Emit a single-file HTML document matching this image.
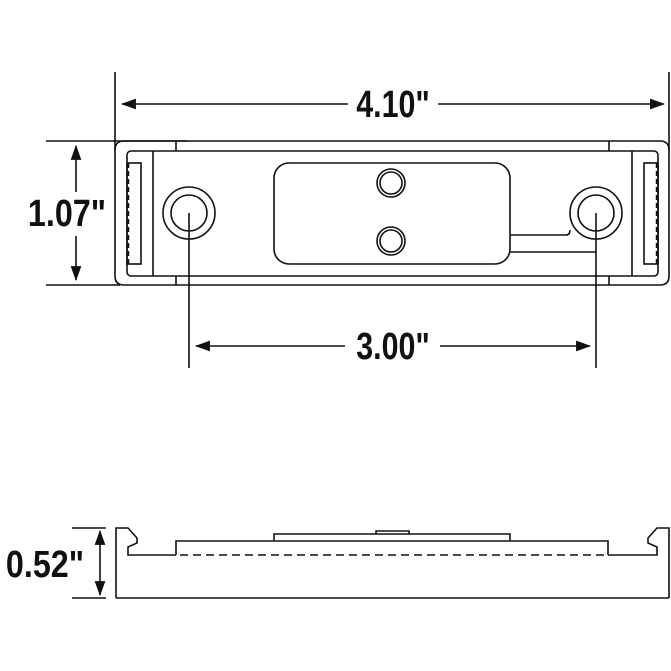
<!DOCTYPE html>
<html><head><style>body{margin:0;background:#fff}svg{display:block}text{font-family:"Liberation Sans",sans-serif;font-weight:bold;fill:#111}</style></head>
<body>
<svg width="671" height="671" viewBox="0 0 671 671" xmlns="http://www.w3.org/2000/svg">
<defs>
<marker id="b" viewBox="0 0 14 10" refX="13" refY="5" markerWidth="15" markerHeight="11" markerUnits="userSpaceOnUse" orient="auto-start-reverse"><path d="M0,0 L14,5 L0,10 z" fill="#111"/></marker>
</defs>
<g fill="none" stroke="#111" stroke-width="1.6">
<line x1="115" y1="72" x2="115" y2="150"/>
<line x1="669" y1="72" x2="669" y2="150"/>
<line x1="122" y1="104" x2="348" y2="104" marker-start="url(#b)"/>
<line x1="438" y1="104" x2="664" y2="104" marker-end="url(#b)"/>
<line x1="46" y1="141" x2="187" y2="141"/>
<line x1="46" y1="285" x2="120" y2="285"/>
<line x1="76" y1="146" x2="76" y2="192" marker-start="url(#b)"/>
<line x1="76" y1="236" x2="76" y2="280" marker-end="url(#b)"/>
<path d="M115,150 Q115,141 124,141 L660,141 Q669,141 669,150 L669,276 Q669,285 660,285 L124,285 Q115,285 115,276 Z"/>
<rect x="127" y="151" width="531" height="125" rx="4"/>
<line x1="153" y1="151" x2="153" y2="276"/>
<line x1="632" y1="151" x2="632" y2="276"/>
<line x1="176" y1="141" x2="176" y2="151"/>
<line x1="609" y1="141" x2="609" y2="151"/>
<line x1="176" y1="276" x2="176" y2="285"/>
<line x1="609" y1="276" x2="609" y2="285"/>
<rect x="127" y="163" width="14" height="101"/>
<line x1="128" y1="163" x2="128" y2="264" stroke-dasharray="5,3" stroke-width="2.5"/>
<rect x="644" y="163" width="14" height="101"/>
<line x1="657" y1="163" x2="657" y2="264" stroke-dasharray="5,3" stroke-width="2.5"/>
<circle cx="189" cy="213" r="26"/><circle cx="189" cy="213" r="18"/>
<circle cx="596" cy="213" r="26"/><circle cx="596" cy="213" r="18"/>
<rect x="274" y="163" width="236" height="101" rx="15"/>
<circle cx="391" cy="183" r="14"/><circle cx="391" cy="183" r="11"/>
<circle cx="391" cy="241" r="14"/><circle cx="391" cy="241" r="11"/>
<path d="M510,235 L566,235 Q570,235 570,230"/>
<path d="M510,252 L596,252"/>
<line x1="189" y1="213" x2="189" y2="368"/>
<line x1="596" y1="213" x2="596" y2="368"/>
<line x1="196" y1="346" x2="345" y2="346" marker-start="url(#b)"/>
<line x1="440" y1="346" x2="590" y2="346" marker-end="url(#b)"/>
<line x1="72" y1="528" x2="106" y2="528"/>
<line x1="72" y1="598" x2="106" y2="598"/>
<line x1="100" y1="531" x2="100" y2="595" marker-start="url(#b)" marker-end="url(#b)"/>
<path d="M116,598 L116,528 L128,528 L137,538 L137,543 L128,547 L128,555 L176,555"/>
<path d="M669,598 L669,528 L657,528 L648,538 L648,543 L657,547 L657,555 L608,555"/>
<line x1="116" y1="598" x2="669" y2="598"/>
<line x1="180" y1="555" x2="606" y2="555" stroke-dasharray="8,5"/>
<path d="M176,555 L176,541 L608,541 L608,555"/>
<path d="M274,541 L274,534 L510,534 L510,541"/>
<path d="M376,534 L376,531 L409,531 L409,534"/>
</g>
<text transform="translate(393,117) scale(0.8,1)" font-size="38" text-anchor="middle">4.10"</text>
<text transform="translate(67,226) scale(0.85,1)" font-size="38" text-anchor="middle">1.07"</text>
<text transform="translate(393,359) scale(0.8,1)" font-size="38" text-anchor="middle">3.00"</text>
<text transform="translate(45,577) scale(0.85,1)" font-size="38" text-anchor="middle">0.52"</text>
</svg>
</body></html>
